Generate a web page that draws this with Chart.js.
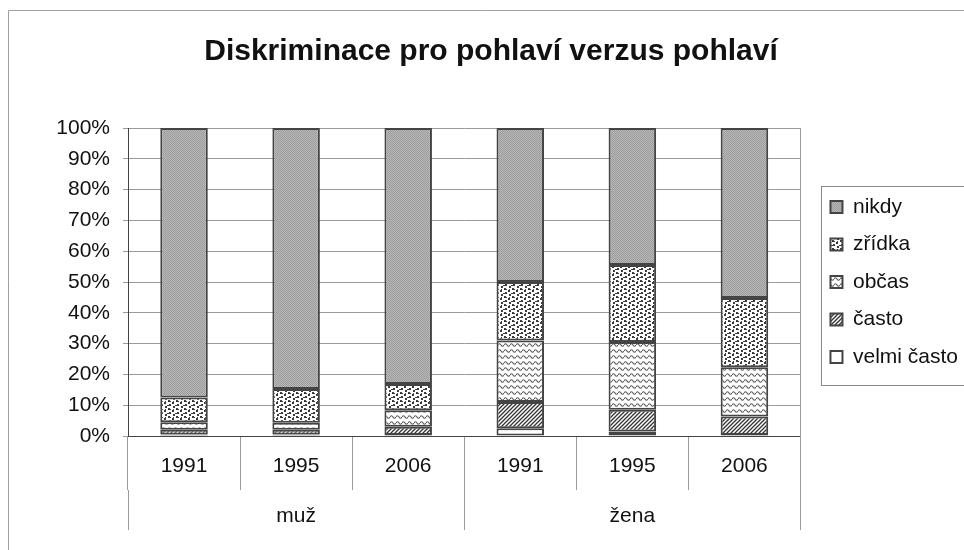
<!DOCTYPE html>
<html>
<head>
<meta charset="utf-8">
<script src="https://cdn.jsdelivr.net/npm/chart.js@4.4.1/dist/chart.umd.min.js"></script>
<style>
  body { margin: 0; background: #fff; }
</style>
</head>
<body>
<canvas id="canvas" width="964" height="550"></canvas>
<script>
const years = ['1991', '1995', '2006', '1991', '1995', '2006']
const groups = ['muž', 'žena']

const velmiCasto = [0.5, 0.5, 0.3, 2.5, 1.5, 0.3]
const casto = [1.5, 1.5, 2.7, 8.5, 7, 6]
const obcas = [2.5, 2.3, 5.4, 20, 22, 16]
const zridka = [8, 11, 8.5, 19, 25, 22.5]
const nikdy = [87.5, 84.7, 83.1, 50, 44.5, 55.2]

const yTicks = [0, 10, 20, 30, 40, 50, 60, 70, 80, 90, 100]

function makePattern(w, h, paint) {
  const c = document.createElement('canvas')
  c.width = w
  c.height = h
  const g = c.getContext('2d')
  paint(g)
  return g.createPattern(c, 'repeat')
}

// fine grey stipple
const patNikdy = makePattern(2, 2, g => {
  g.fillStyle = '#b6b6b6'
  g.fillRect(0, 0, 2, 2)
  g.fillStyle = '#9e9e9e'
  g.fillRect(0, 0, 1, 1); g.fillRect(1, 1, 1, 1)
})

// confetti blobs
const patZridka = makePattern(8, 8, g => {
  g.fillStyle = '#fff'
  g.fillRect(0, 0, 8, 8)
  g.fillStyle = '#3c3c3c'
  g.fillRect(0, 0, 2, 2); g.fillRect(2, 1, 1, 1)
  g.fillRect(4, 2, 2, 2); g.fillRect(5, 1, 1, 1)
  g.fillRect(1, 4, 2, 2); g.fillRect(0, 5, 1, 1)
  g.fillRect(5, 6, 2, 2); g.fillRect(7, 5, 1, 1)
})

// wavy lines
const patObcas = makePattern(6, 6, g => {
  g.fillStyle = '#fff'
  g.fillRect(0, 0, 6, 6)
  g.strokeStyle = '#5a5a5a'
  g.lineWidth = 1.2
  g.beginPath()
  g.moveTo(0, 3)
  g.quadraticCurveTo(1.5, 0.5, 3, 3)
  g.quadraticCurveTo(4.5, 5.5, 6, 3)
  g.stroke()
})

// diagonal hatch
const patCasto = makePattern(4, 4, g => {
  g.fillStyle = '#fff'
  g.fillRect(0, 0, 4, 4)
  g.strokeStyle = '#333'
  g.lineWidth = 1.3
  g.beginPath()
  g.moveTo(0, 4); g.lineTo(4, 0)
  g.moveTo(-1, 1); g.lineTo(1, -1)
  g.moveTo(3, 5); g.lineTo(5, 3)
  g.stroke()
})

const edge = '#444'
const gridGrey = '#9a9a9a'
const font = 'Liberation Sans, Arial, sans-serif'

function bars(label, values, fill) {
  return {
    label: label,
    data: values,
    backgroundColor: fill,
    borderColor: edge,
    borderWidth: 2,
    borderSkipped: false,
    barPercentage: 0.424,
    categoryPercentage: 1,
  }
}

const data = {
  labels: years,
  datasets: [
    bars('velmi často', velmiCasto, '#ffffff'),
    bars('často', casto, patCasto),
    bars('občas', obcas, patObcas),
    bars('zřídka', zridka, patZridka),
    bars('nikdy', nikdy, patNikdy),
  ],
}

const frame = {
  id: 'frame',
  beforeDraw(chart) {
    const ctx = chart.ctx
    ctx.save()
    ctx.fillStyle = '#fff'
    ctx.fillRect(0, 0, chart.width, chart.height)
    ctx.strokeStyle = '#a0a0a0'
    ctx.lineWidth = 1
    ctx.beginPath()
    ctx.moveTo(8.5, chart.height)
    ctx.lineTo(8.5, 10.5)
    ctx.lineTo(chart.width, 10.5)
    ctx.stroke()
    ctx.restore()
  },
  afterDraw(chart) {
    const lg = chart.legend
    if (!lg || !lg.legendHitBoxes.length) return
    const hb = lg.legendHitBoxes
    const top = Math.min(...hb.map(h => h.top))
    const bottom = Math.max(...hb.map(h => h.top + h.height))
    const left = Math.min(...hb.map(h => h.left))
    const ctx = chart.ctx
    ctx.save()
    ctx.strokeStyle = '#8a8a8a'
    ctx.lineWidth = 1
    ctx.strokeRect(Math.round(left - 9) + 0.5, Math.round(top - 11) + 0.5, 200, Math.round(bottom - top + 28))
    ctx.restore()
  },
}

const config = {
  type: 'bar',
  data: data,
  plugins: [frame],
  options: {
    responsive: false,
    animation: false,
    layout: { padding: { left: 14, right: -4, top: 0, bottom: 20 } },
    plugins: {
      title: {
        display: true,
        text: 'Diskriminace pro pohlaví verzus pohlaví',
        color: '#111',
        font: { family: font, size: 30, weight: 'bold' },
        padding: { top: 34, bottom: 58 },
      },
      legend: {
        position: 'right',
        fullSize: false,
        reverse: true,
        labels: {
          color: '#111',
          font: { family: font, size: 21 },
          boxWidth: 12,
          boxHeight: 12,
          padding: 16.5,
        },
      },
      tooltip: { enabled: false },
    },
    scales: {
      x: {
        stacked: true,
        offset: true,
        grid: { offset: true, drawOnChartArea: false, color: gridGrey, tickLength: 54 },
        border: { color: edge },
        ticks: { color: '#111', font: { family: font, size: 21 }, padding: -36, maxRotation: 0 },
        afterFit(s) { s.height = 54 },
      },
      x2: {
        type: 'category',
        labels: groups,
        position: 'bottom',
        offset: true,
        grid: { offset: true, drawOnChartArea: false, color: gridGrey, tickLength: 40 },
        border: { display: false },
        ticks: { color: '#111', font: { family: font, size: 21 }, padding: -26, maxRotation: 0 },
        afterFit(s) { s.height = 40 },
      },
      y: {
        stacked: true,
        min: 0,
        max: 100,
        afterBuildTicks(s) { s.ticks = yTicks.map(v => ({ value: v })) },
        grid: { color: gridGrey, tickLength: 5 },
        border: { color: edge },
        ticks: { color: '#111', font: { family: font, size: 21 }, padding: 13, callback: v => v + '%' },
        afterFit(s) { s.width = 114 },
      },
      yR: {
        type: 'linear',
        position: 'right',
        grid: { display: false },
        ticks: { display: false },
        border: { display: true, color: gridGrey },
        afterFit(s) { s.width = 13.5 },
      },
    },
  },
}

const canvas = document.getElementById('canvas')
const chart = new Chart(canvas, config)
</script>
</body>
</html>
